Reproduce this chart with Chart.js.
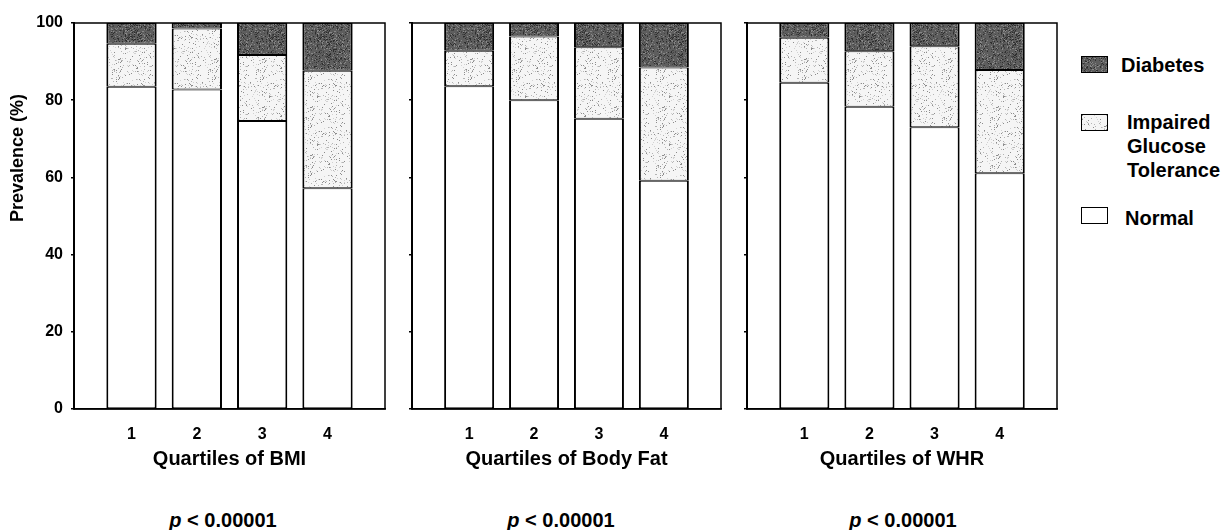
<!DOCTYPE html>
<html lang="en">
<head>
  <meta charset="UTF-8" />
  <title>Prevalence by quartiles</title>
  <script src="https://cdn.jsdelivr.net/npm/chart.js"></script>
  <style>
    body { margin: 0; background: #fff; font-family: "Liberation Sans", Arial, sans-serif; font-weight: bold; color: #000; }
    #wrap { position: relative; width: 1228px; height: 530px; overflow: hidden; }
    canvas { position: absolute; top: 0; }
    .pval { position: absolute; top: 509px; width: 200px; text-align: center; font-size: 20px; }
    .key { position: absolute; left: 1081px; width: 25px; height: 15px; border: 1.5px solid #000; }
    .keytext { position: absolute; font-size: 20px; line-height: 24px; }
  </style>
</head>
<body>
<div id="wrap">
  <canvas id="bmi" width="400" height="480" style="left:0"></canvas>
  <canvas id="fat" width="330" height="480" style="left:400px"></canvas>
  <canvas id="whr" width="330" height="480" style="left:734px"></canvas>

  <div class="pval" style="left:123px"><i>p</i> &lt; 0.00001</div>
  <div class="pval" style="left:461px"><i>p</i> &lt; 0.00001</div>
  <div class="pval" style="left:803px"><i>p</i> &lt; 0.00001</div>

  <div class="key" id="keyDiab" style="top:56px"></div>
  <div class="keytext" style="left:1121px;top:53px">Diabetes</div>
  <div class="key" id="keyIgt" style="top:114px"></div>
  <div class="keytext" style="left:1127px;top:110px">Impaired<br>Glucose<br>Tolerance</div>
  <div class="key" id="keyNorm" style="top:207px;background:#fff"></div>
  <div class="keytext" style="left:1125px;top:206px">Normal</div>
</div>

<script>
  const quartiles = [1, 2, 3, 4];
  const yTicks = [0, 20, 40, 60, 80, 100];

  // % in each group, per quartile
  const bmiNormal = [83.5, 82.8, 74.6, 57.2];
  const bmiIgt = [11.1, 15.8, 17.1, 30.4];
  const bmiDiabetes = [5.4, 1.4, 8.3, 12.4];

  const fatNormal = [83.6, 80.0, 75.2, 59.1];
  const fatIgt = [9.2, 16.5, 18.5, 29.4];
  const fatDiabetes = [7.2, 3.5, 6.3, 11.5];

  const whrNormal = [84.5, 78.3, 73.0, 61.1];
  const whrIgt = [11.7, 14.4, 21.0, 26.7];
  const whrDiabetes = [3.8, 7.3, 6.0, 12.2];

  const FONT = '"Liberation Sans", Arial, sans-serif';

  // speckled fill like the printed screen tones
  function speckle(base, dots, count, seed) {
    const c = document.createElement('canvas');
    c.width = c.height = 48;
    const g = c.getContext('2d');
    g.fillStyle = base;
    g.fillRect(0, 0, 48, 48);
    let s = seed;
    const next = () => (s = (s * 16807) % 2147483647) / 2147483647;
    for (let i = 0; i < count; i++) {
      g.fillStyle = dots[i % dots.length];
      g.fillRect(Math.floor(next() * 48), Math.floor(next() * 48), 1, 1);
    }
    return c;
  }
  const diabTile = speckle('#5e5e5e', ['#2e2e2e', '#888888', '#444444'], 900, 7);
  const igtTile = speckle('#f5f5f5', ['#b4b4b4', '#d2d2d2', '#8c8c8c'], 260, 11);

  document.getElementById('keyDiab').style.backgroundImage = `url(${diabTile.toDataURL()})`;
  document.getElementById('keyIgt').style.backgroundImage = `url(${igtTile.toDataURL()})`;

  const frame = {
    id: 'frame',
    afterDatasetsDraw(chart) {
      const { ctx, chartArea: a } = chart;
      ctx.save();
      ctx.strokeStyle = '#000';
      ctx.lineWidth = 1.5;
      ctx.strokeRect(a.left, a.top, a.right - a.left, a.bottom - a.top);
      ctx.restore();
    }
  };

  const sideLabel = {
    id: 'sideLabel',
    afterDraw(chart, args, opts) {
      if (!opts.text) return;
      const ctx = chart.ctx;
      ctx.save();
      ctx.translate(opts.x, opts.y);
      ctx.rotate(-Math.PI / 2);
      ctx.font = `bold 18px ${FONT}`;
      ctx.fillStyle = '#000';
      ctx.textAlign = 'center';
      ctx.textBaseline = 'middle';
      ctx.fillText(opts.text, 0, 0);
      ctx.restore();
    }
  };

  function makeChart(id, normal, igt, diabetes, title, yWidth, padRight, showY) {
    const canvas = document.getElementById(id);
    const ctx = canvas.getContext('2d');
    const pts = arr => arr.map((v, i) => ({ x: quartiles[i], y: v }));
    // thin top/bottom so stacked segments meet in a single 2px line
    const common = {
      borderColor: '#000',
      borderWidth: { top: 1, bottom: 1, left: 2, right: 2 },
      borderSkipped: false,
      barPercentage: 0.77,
      categoryPercentage: 1
    };

    return new Chart(canvas, {
      type: 'bar',
      data: {
        datasets: [
          { label: 'Normal', data: pts(normal), backgroundColor: '#fff', ...common },
          { label: 'Impaired Glucose Tolerance', data: pts(igt), backgroundColor: ctx.createPattern(igtTile, 'repeat'), ...common },
          { label: 'Diabetes', data: pts(diabetes), backgroundColor: ctx.createPattern(diabTile, 'repeat'), ...common }
        ]
      },
      options: {
        responsive: false,
        animation: false,
        layout: { padding: { top: 23, right: padRight, bottom: 0, left: 0 } },
        plugins: {
          legend: { display: false },
          tooltip: { enabled: false },
          sideLabel: showY ? { text: 'Prevalence (%)', x: 18, y: 158 } : {}
        },
        scales: {
          x: {
            type: 'linear',
            stacked: true,
            offset: false,
            min: 0.12,
            max: 4.88,
            afterBuildTicks: s => { s.ticks = quartiles.map(v => ({ value: v })); },
            afterFit: s => { s.height = 71; },
            grid: { display: false, drawTicks: false, offset: false },
            border: { color: '#000', width: 1.5 },
            ticks: { color: '#000', padding: 16, maxRotation: 0, autoSkip: false, font: { family: FONT, size: 16, weight: 'bold' }, callback: v => String(v) },
            title: { display: true, text: title, color: '#000', padding: { top: 0, bottom: 9 }, font: { family: FONT, size: 20, weight: 'bold' } }
          },
          y: {
            stacked: true,
            min: 0,
            max: 100,
            afterBuildTicks: s => { s.ticks = yTicks.map(v => ({ value: v })); },
            afterFit: s => { s.width = yWidth; },
            grid: { display: true, drawOnChartArea: false, drawTicks: true, tickLength: 3, color: '#000', lineWidth: 1.5 },
            border: { color: '#000', width: 2 },
            ticks: { display: showY, color: '#000', padding: 8, font: { family: FONT, size: 16, weight: 'bold' } }
          }
        }
      },
      plugins: [frame, sideLabel]
    });
  }

  makeChart('bmi', bmiNormal, bmiIgt, bmiDiabetes, 'Quartiles of BMI', 74, 15, true);
  makeChart('fat', fatNormal, fatIgt, fatDiabetes, 'Quartiles of Body Fat', 12, 9, false);
  makeChart('whr', whrNormal, whrIgt, whrDiabetes, 'Quartiles of WHR', 13, 7, false);
</script>
</body>
</html>
